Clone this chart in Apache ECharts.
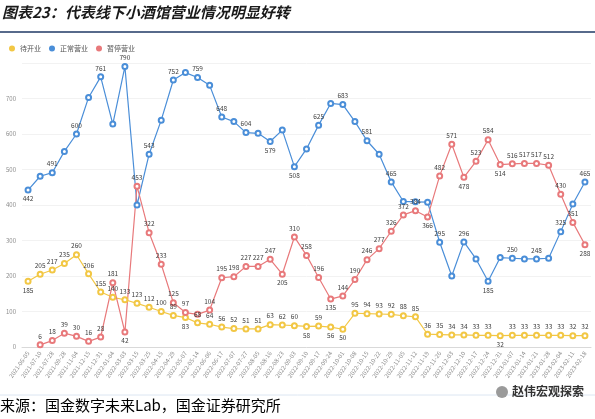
<!DOCTYPE html>
<html>
<head>
<meta charset="utf-8">
<script src="https://cdn.jsdelivr.net/npm/echarts@6/dist/echarts.min.js"></script>
<style>
  html, body { margin: 0; padding: 0; background: #fff; }
  #chart { width: 595px; height: 419px; }
</style>
</head>
<body>
<div id="chart"></div>
<script>
// 日期（x轴）
var dates = [
  '2021-06-05', '2021-07-10', '2021-07-28', '2021-09-28', '2021-11-04', '2021-12-15', '2021-12-31',
  '2022-01-04', '2022-03-03', '2022-03-15', '2022-03-25', '2022-04-15', '2022-04-29', '2022-05-07',
  '2022-05-14', '2022-06-06', '2022-06-17', '2022-07-07', '2022-07-27', '2022-08-05', '2022-08-16',
  '2022-08-23', '2022-09-03', '2022-09-10', '2022-09-17', '2022-09-24', '2022-10-01', '2022-10-08',
  '2022-10-15', '2022-10-22', '2022-10-29', '2022-11-05', '2022-11-12', '2022-11-19', '2022-11-26',
  '2022-12-03', '2022-12-10', '2022-12-17', '2022-12-24', '2022-12-31', '2023-01-07', '2023-01-14',
  '2023-01-21', '2023-01-28', '2023-02-04', '2023-02-11', '2023-02-18'
];
// 待开业
var pending = [185, 205, 217, 235, 260, 206, 155, 140, 133, 123, 112, 100, 89, 83, 68, 64, 56, 52, 51, 51,
  63, 62, 60, 58, 59, 56, 50, 95, 94, 93, 92, 88, 85, 36, 35, 34, 34, 33, 33, 32, 33, 33, 33, 33, 33, 32, 32];
// 正常营业
var normal = [442, 481, 491, 551, 600, 703, 761, 628, 790, 400, 543, 639, 752, 773, 759, 737, 648, 635, 604, 602,
  579, 611, 508, 558, 625, 686, 683, 635, 581, 543, 465, 410, 409, 408, 295, 200, 296, 248, 185, 252,
  250, 248, 248, 250, 325, 403, 465];
// 暂停营业
var paused = ['-', 6, 18, 39, 30, 16, 28, 181, 42, 453, 322, 233, 125, 97, 92, 104, 195, 198, 227, 227,
  247, 205, 310, 258, 196, 135, 144, 190, 246, 277, 326, 372, 384, 366, 482, 571, 478, 523, 584, 514,
  516, 517, 517, 512, 430, 351, 288];
var yTicks = [0, 100, 200, 300, 400, 500, 600, 700];

// 标签放在点下方的序号
var pendingBelow = [0, 13, 23, 25, 26, 39];
var normalBelow = [0, 20, 22, 38];
var pausedBelow = [8, 21, 25, 33, 36, 39, 46];

var chart = echarts.init(document.getElementById('chart'));

function withLabels(arr, below) {
  return arr.map(function (v, i) {
    if (below.indexOf(i) > -1) {
      return { value: v, label: { position: 'bottom' } };
    }
    return v;
  });
}

var labelStyle = {
  show: true,
  position: 'top',
  fontSize: 6.5,
  color: '#404040',
  distance: 2
};

var option = {
  animation: false,
  textStyle: { fontFamily: 'Noto Sans CJK SC' },
  legend: {
    left: 4,
    top: 40,
    icon: 'circle',
    itemWidth: 6,
    itemHeight: 6,
    itemGap: 8,
    textStyle: { fontSize: 7, color: '#555' },
    data: ['待开业', '正常营业', '暂停营业']
  },
  grid: { left: 22, right: 4, top: 63, bottom: 72 },
  xAxis: {
    type: 'category',
    data: dates,
    boundaryGap: true,
    axisLine: { lineStyle: { color: '#d9d9d9' } },
    axisTick: { show: false },
    axisLabel: { rotate: 55, fontSize: 6, color: '#8c8c8c', interval: 0, margin: 5 }
  },
  yAxis: {
    type: 'value',
    min: 0,
    max: 800,
    interval: 100,
    axisLine: { show: false },
    axisTick: { show: false },
    splitLine: { lineStyle: { color: '#f2f2f2' } },
    axisLabel: {
      fontSize: 6,
      color: '#8c8c8c',
      margin: 6,
      formatter: function (v) { return yTicks.indexOf(v) > -1 ? v : ''; }
    }
  },
  series: [
    {
      name: '待开业',
      type: 'line',
      data: withLabels(pending, pendingBelow),
      symbol: 'emptyCircle',
      symbolSize: 5,
      color: '#f2c744',
      itemStyle: { borderWidth: 1 },
      lineStyle: { width: 1.2 },
      label: labelStyle
    },
    {
      name: '正常营业',
      type: 'line',
      data: withLabels(normal, normalBelow),
      symbol: 'emptyCircle',
      symbolSize: 5,
      color: '#4a8ed8',
      itemStyle: { borderWidth: 1 },
      lineStyle: { width: 1.2 },
      label: Object.assign({}, labelStyle, {
        // 只显示隔点的标签
        formatter: function (p) {
          return p.dataIndex % 2 === 0 && p.dataIndex !== 32 ? p.value : '';
        }
      })
    },
    {
      name: '暂停营业',
      type: 'line',
      data: withLabels(paused, pausedBelow),
      symbol: 'emptyCircle',
      symbolSize: 5,
      color: '#e8797b',
      itemStyle: { borderWidth: 1 },
      lineStyle: { width: 1.2 },
      label: Object.assign({}, labelStyle, {
        formatter: function (p) { return p.dataIndex === 14 ? '' : p.value; }
      })
    }
  ],
  graphic: [
    {
      type: 'text',
      left: 2,
      top: 5,
      style: {
        text: '图表23：代表线下小酒馆营业情况明显好转',
        font: 'italic bold 15px "Noto Sans CJK SC"',
        fill: '#1a1a1a'
      }
    },
    {
      type: 'line',
      shape: { x1: 0, y1: 32, x2: 595, y2: 32 },
      style: { stroke: '#1f3864', lineWidth: 1.5 }
    },
    {
      type: 'line',
      shape: { x1: 0, y1: 395, x2: 595, y2: 395 },
      style: { stroke: '#dce6f2', lineWidth: 1 }
    },
    {
      type: 'circle',
      shape: { cx: 502, cy: 392, r: 6 },
      style: { fill: '#9a9a9a' }
    },
    {
      type: 'text',
      left: 512,
      top: 385,
      style: {
        text: '赵伟宏观探索',
        font: 'bold 12px "Noto Sans CJK SC"',
        fill: '#333'
      }
    },
    {
      type: 'text',
      left: 0,
      top: 398,
      style: {
        text: '来源：国金数字未来Lab，国金证券研究所',
        font: '15px "Noto Sans CJK SC"',
        fill: '#000'
      }
    }
  ]
};

chart.setOption(option);
</script>
</body>
</html>
